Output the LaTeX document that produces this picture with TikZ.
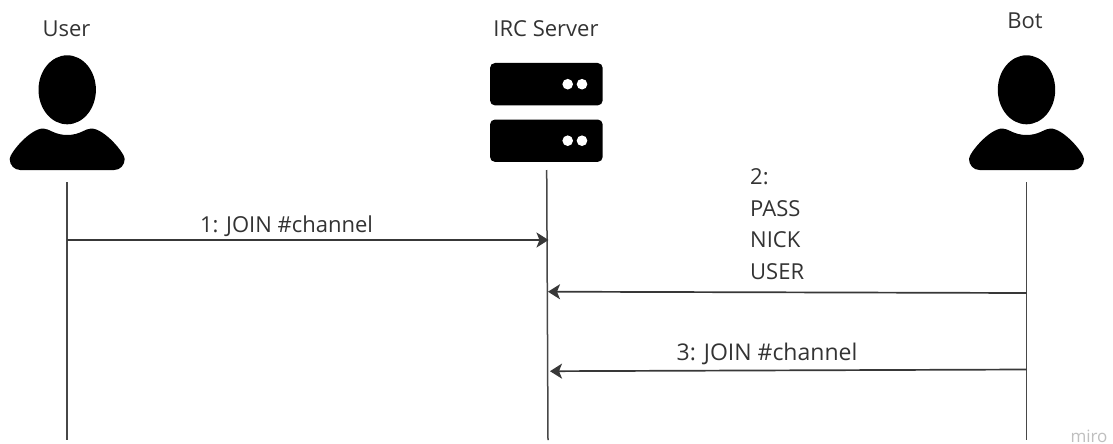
\documentclass[tikz,border=0pt]{standalone}
\usepackage{fontspec}
\setmainfont{Open Sans}
\usetikzlibrary{arrows.meta}
\tikzset{
  x=1pt,y=-1pt,
  lbl/.style={inner sep=0pt,text=black!80,font=\fontsize{22}{31.5}\selectfont,align=left},
  life/.style={draw=black!72,line width=1.5pt},
  msg/.style={draw=black!78,line width=1.7pt,-{Stealth[length=12pt,width=15pt,inset=3pt]}},
  icon/.style={fill=black,draw=none}
}
\newcommand{\personicon}[1]{%
  \begin{scope}[shift={(#1,0)}]
    \fill[icon] (0,89.8) ellipse [x radius=28.7,y radius=34.5];
    \fill[icon] (-57.5,159)
      .. controls (-57.5,153) and (-37,128.5) .. (-24,128.5)
      .. controls (-18,128.5) and (-13,135) .. (0,135)
      .. controls (13,135) and (18,128.5) .. (24,128.5)
      .. controls (37,128.5) and (57.5,153) .. (57.5,159)
      .. controls (57.5,165) and (53,170) .. (47,170)
      -- (-47,170)
      .. controls (-53,170) and (-57.5,165) .. (-57.5,159) -- cycle;
  \end{scope}}
\newcommand{\serverunit}[1]{%
  \fill[icon,rounded corners=5pt] (490,#1-21.2) rectangle (602.7,#1+21.2);
  \fill[white] (567.7,#1) circle [radius=5.3];
  \fill[white] (582,#1) circle [radius=5.3];}
\begin{document}
\begin{tikzpicture}
\useasboundingbox (0,0) rectangle (1113,444);
\fill[white] (0,0) rectangle (1113,444);
\personicon{67.2}
\personicon{1026.5}
\serverunit{84.2}
\serverunit{140.7}

\node[lbl] (userlabel) at (66.5,29) {User};
\node[lbl] (serverlabel) at (546,29) {IRC Server};
\node[lbl] (botlabel) at (1025,21) {Bot};

\coordinate (utop) at (67,182);
\coordinate (ubot) at (67,440);
\coordinate (stop) at (546.7,170);
\coordinate (sbot) at (548,440);
\coordinate (btop) at (1026.5,182);
\coordinate (bbot) at (1026.5,440);
\draw[life] (utop) -- (ubot);
\draw[life] (stop) -- (sbot);
\draw[life] (btop) -- (bbot);

\coordinate (m1a) at (67,240);
\coordinate (m1b) at (548.5,240);
\coordinate (m2a) at (1026.5,293);
\coordinate (m2b) at (548,291.7);
\coordinate (m3a) at (1026.5,369.5);
\coordinate (m3b) at (550,371.2);
\draw[msg] (m1a) -- (m1b);
\draw[msg] (m2a) -- (m2b);
\draw[msg] (m3a) -- (m3b);

\node[lbl] (m1label) at (286.5,226) {1: JOIN \#channel};
\node[lbl,anchor=north west] (m2label) at (750,168.5) {2:\\PASS\\NICK\\USER};
\node[lbl,font=\fontsize{23}{31}\selectfont] (m3label) at (767,354) {3: JOIN \#channel};
\node[inner sep=0pt,anchor=base,text=black!25,font=\fontsize{17}{18}\selectfont] (miro) at (1089,442) {miro};
\end{tikzpicture}
\end{document}
